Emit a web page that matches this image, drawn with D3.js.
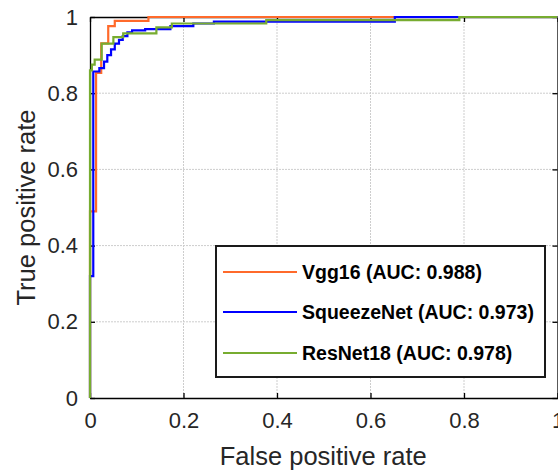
<!DOCTYPE html>
<html><head><meta charset="utf-8">
<script src="https://cdn.jsdelivr.net/npm/d3@7"></script>
<style>body{margin:0;background:#fff;overflow:hidden}svg{display:block}</style>
</head><body>
<svg id="c" width="558" height="473"></svg>
<script>
// Data (ROC step vertices: fpr, tpr)
const seriesNames = ["Vgg16 (AUC: 0.988)", "SqueezeNet (AUC: 0.973)", "ResNet18 (AUC: 0.978)"];
const vggFpr = [0, 0.013, 0.024, 0.039, 0.053, 0.125, 1];
const vggTpr = [0, 0.49, 0.853, 0.931, 0.976, 0.99, 1];
const sqzFpr = [0, 0.007, 0.02, 0.03, 0.037, 0.045, 0.053, 0.062, 0.07, 0.08, 0.09, 0.118, 0.172, 0.221, 0.265, 0.652, 1];
const sqzTpr = [0, 0.32, 0.857, 0.866, 0.883, 0.9, 0.915, 0.93, 0.94, 0.95, 0.96, 0.965, 0.968, 0.976, 0.983, 0.988, 1];
const resFpr = [0, 0.004, 0.01, 0.025, 0.05, 0.071, 0.142, 0.175, 0.377, 0.79, 1];
const resTpr = [0, 0.86, 0.875, 0.888, 0.93, 0.947, 0.957, 0.973, 0.983, 0.992, 1];
const xTicks = [0, 0.2, 0.4, 0.6, 0.8, 1];
const yTicks = [0, 0.2, 0.4, 0.6, 0.8, 1];
const colors = ["#ff6a2b", "#0000ff", "#77ac30"];

const svg = d3.select("#c");
const L = 90, R = 557.5, T = 17, B = 398;
const x = d3.scaleLinear().domain([0, 1]).range([L, R]);
const y = d3.scaleLinear().domain([0, 1]).range([B, T]);
const font = "Arial, 'Liberation Sans', sans-serif";
const txt = "#262626";

// grid
const g = svg.append("g");
g.selectAll(".gx").data(xTicks.slice(1, -1)).enter().append("line")
  .attr("x1", d => x(d)).attr("x2", d => x(d)).attr("y1", T).attr("y2", B)
  .attr("stroke", "#cdcdcd").attr("stroke-width", 1).attr("stroke-dasharray", "2,1");
g.selectAll(".gy").data(yTicks.slice(1, -1)).enter().append("line")
  .attr("y1", d => y(d)).attr("y2", d => y(d)).attr("x1", L).attr("x2", R)
  .attr("stroke", "#cdcdcd").attr("stroke-width", 1).attr("stroke-dasharray", "2,1");

// axes with inward ticks
const axB = d3.axisBottom(x).tickValues(xTicks).tickSizeInner(-5).tickSizeOuter(0).tickPadding(14).tickFormat(d3.format("~g"));
const axL = d3.axisLeft(y).tickValues(yTicks).tickSizeInner(-5).tickSizeOuter(0).tickPadding(12).tickFormat(d3.format("~g"));
const axT = d3.axisTop(x).tickValues(xTicks).tickSizeInner(-5).tickSizeOuter(0).tickFormat("");
const axR = d3.axisRight(y).tickValues(yTicks).tickSizeInner(-5).tickSizeOuter(0).tickFormat("");
function style(sel){
  sel.selectAll("path").attr("stroke", "#000").attr("stroke-width", 1.3);
  sel.selectAll("line").attr("stroke", "#000").attr("stroke-width", 1.3);
  sel.selectAll("text").attr("fill", txt).style("font-family", font).style("font-size", "22px");
}
svg.append("g").attr("transform", `translate(0,${B})`).call(axB).call(style);
svg.append("g").attr("transform", `translate(${L},0)`).call(axL).call(style);
svg.append("g").attr("transform", `translate(0,${T})`).call(axT).call(style);
svg.append("g").attr("transform", `translate(${R},0)`).call(axR).call(style);

// curves
const line = d3.line().x(d => x(d[0])).y(d => y(d[1])).curve(d3.curveStepBefore);
const data = [
  d3.zip(vggFpr, vggTpr),
  d3.zip(sqzFpr, sqzTpr),
  d3.zip(resFpr, resTpr)
];
svg.append("g").selectAll("path").data(data).enter().append("path")
  .attr("d", line).attr("fill", "none")
  .attr("stroke", (d, i) => colors[i]).attr("stroke-width", 2.2)
  .attr("stroke-linejoin", "miter");

// axis labels
svg.append("text").attr("x", (L + R) / 2 - 0.5).attr("y", 465).attr("text-anchor", "middle")
  .attr("fill", txt).style("font-family", font).style("font-size", "25.5px").text("False positive rate");
svg.append("text").attr("transform", `translate(35,${(T + B) / 2}) rotate(-90)`).attr("text-anchor", "middle")
  .attr("fill", txt).style("font-family", font).style("font-size", "25.5px").text("True positive rate");

// legend
const lg = svg.append("g");
lg.append("rect").attr("x", 216).attr("y", 246).attr("width", 329).attr("height", 131)
  .attr("fill", "#fff").attr("stroke", "#1a1a1a").attr("stroke-width", 2);
const rowsY = [272, 312, 353];
seriesNames.forEach((n, i) => {
  lg.append("line").attr("x1", 223).attr("x2", 297).attr("y1", rowsY[i]).attr("y2", rowsY[i])
    .attr("stroke", colors[i]).attr("stroke-width", 2);
  lg.append("text").attr("x", 302).attr("y", rowsY[i] + 7).attr("fill", "#000")
    .style("font-family", font).style("font-size", "19.5px").style("font-weight", "bold").text(n);
});
</script>
</body></html>
